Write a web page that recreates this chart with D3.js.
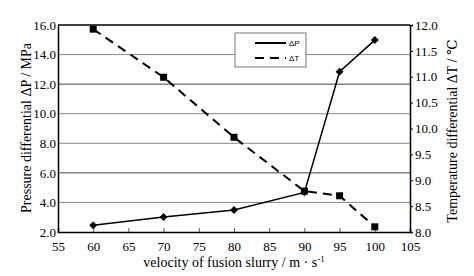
<!DOCTYPE html>
<html>
<head>
<meta charset="utf-8">
<script src="https://cdn.jsdelivr.net/npm/d3@7"></script>
<style>
  body { margin: 0; background: #fff; }
  svg text { font-family: "Liberation Serif", "DejaVu Serif", "Times New Roman", serif; }
</style>
</head>
<body>
<script>
// data
const velocity = [60, 70, 80, 90, 95, 100];
const pressureDiff = [2.45, 3.01, 3.49, 4.68, 12.84, 14.98];
const tempDiff = [11.92, 10.99, 9.83, 8.79, 8.70, 8.10];
const xTicks = [55, 60, 65, 70, 75, 80, 85, 90, 95, 100, 105];
const leftTicks = [2, 4, 6, 8, 10, 12, 14, 16];
const rightTicks = [8, 8.5, 9, 9.5, 10, 10.5, 11, 11.5, 12];

const outerWidth = 474, outerHeight = 276;
const margin = {top: 25, right: 64, bottom: 44, left: 58};
const width = outerWidth - margin.left - margin.right;
const height = outerHeight - margin.top - margin.bottom;

const svg = d3.select("body").append("svg")
    .attr("width", outerWidth)
    .attr("height", outerHeight);

const g = svg.append("g")
    .attr("transform", `translate(${margin.left},${margin.top})`);

const xScale = d3.scaleLinear().domain([55, 105]).range([0, width]);
const yLeft = d3.scaleLinear().domain([2, 16]).range([height, 0]);
const yRight = d3.scaleLinear().domain([8, 12]).range([height, 0]);

// horizontal grid
g.append("g")
    .selectAll("line")
    .data(leftTicks.slice(1, -1))
    .join("line")
    .attr("x1", 0).attr("x2", width)
    .attr("y1", d => yLeft(d)).attr("y2", d => yLeft(d))
    .attr("stroke", d => (d === 12 || d === 6) ? "#444" : "#8a8a8a")
    .attr("stroke-width", 1);

// axes
const xAxis = d3.axisBottom(xScale).tickValues(xTicks).tickSize(-4).tickPadding(10).tickFormat(d3.format("d"));
const leftAxis = d3.axisLeft(yLeft).tickValues(leftTicks).tickSize(0).tickPadding(2).tickFormat(d3.format(".1f"));
const rightAxis = d3.axisRight(yRight).tickValues(rightTicks).tickSize(3).tickPadding(2).tickFormat(d3.format(".1f"));

const xg = g.append("g").attr("transform", `translate(0,${height})`).call(xAxis);
const lg = g.append("g").call(leftAxis);
const rg = g.append("g").attr("transform", `translate(${width},0)`).call(rightAxis);

[xg, lg, rg].forEach(a => {
  a.attr("font-family", null).attr("font-size", null);
  a.select(".domain").attr("stroke", "#000").attr("stroke-width", 1.5);
  a.selectAll("text").attr("font-size", 13).attr("fill", "#000");
});
xg.selectAll(".tick line").attr("stroke", "#555");
xg.selectAll(".tick").filter(d => d === 55 || d === 105).select("line").remove();

// top border
g.append("line")
    .attr("x1", 0).attr("x2", width).attr("y1", 0).attr("y2", 0)
    .attr("stroke", "#000").attr("stroke-width", 1.5);

// lines
const pLine = d3.line().x((d, i) => xScale(velocity[i])).y(d => yLeft(d));
const tLine = d3.line().x((d, i) => xScale(velocity[i])).y(d => yRight(d));

g.append("path").datum(tempDiff)
    .attr("fill", "none").attr("stroke", "#000")
    .attr("stroke-width", 2).attr("stroke-dasharray", "9,6")
    .attr("d", tLine);

g.append("path").datum(pressureDiff)
    .attr("fill", "none").attr("stroke", "#000")
    .attr("stroke-width", 1.5)
    .attr("d", pLine);

// markers
g.selectAll(".pmark").data(pressureDiff).join("path")
    .attr("class", "pmark")
    .attr("d", d3.symbol(d3.symbolDiamond2, 40)())
    .attr("transform", (d, i) => `translate(${xScale(velocity[i])},${yLeft(d)})`)
    .attr("fill", "#000");

g.selectAll(".tmark").data(tempDiff).join("rect")
    .attr("class", "tmark")
    .attr("x", (d, i) => xScale(velocity[i]) - 3.5)
    .attr("y", d => yRight(d) - 3.5)
    .attr("width", 7).attr("height", 7)
    .attr("fill", "#000");

// legend
const legend = svg.append("g").attr("transform", "translate(235,33)");
legend.append("rect")
    .attr("width", 71).attr("height", 34)
    .attr("fill", "#fff").attr("stroke", "#777").attr("stroke-width", 1);
legend.append("line").attr("x1", 20).attr("x2", 51).attr("y1", 10).attr("y2", 10)
    .attr("stroke", "#000").attr("stroke-width", 2);
legend.append("line").attr("x1", 20).attr("x2", 51).attr("y1", 25).attr("y2", 25)
    .attr("stroke", "#000").attr("stroke-width", 2).attr("stroke-dasharray", "9,6");
legend.append("text").attr("x", 54).attr("y", 13).attr("font-size", 8)
    .style("font-family", "Liberation Sans").text("ΔP");
legend.append("text").attr("x", 54).attr("y", 28).attr("font-size", 8)
    .style("font-family", "Liberation Sans").text("ΔT");

// axis titles
svg.append("text")
    .attr("x", margin.left + width / 2).attr("y", 267)
    .attr("text-anchor", "middle").attr("font-size", 14)
    .text("velocity of fusion slurry / m  \u00b7 s")
    .append("tspan").attr("dy", -5).attr("font-size", 9).text("-1");

svg.append("text")
    .attr("transform", `translate(31,128) rotate(-90)`)
    .attr("text-anchor", "middle").attr("font-size", 14)
    .text("Pressure differential ΔP / MPa");

svg.append("text")
    .attr("transform", `translate(457,131) rotate(-90)`)
    .attr("text-anchor", "middle").attr("font-size", 14)
    .text("Temperature differential ΔT / ℃");
</script>
</body>
</html>
